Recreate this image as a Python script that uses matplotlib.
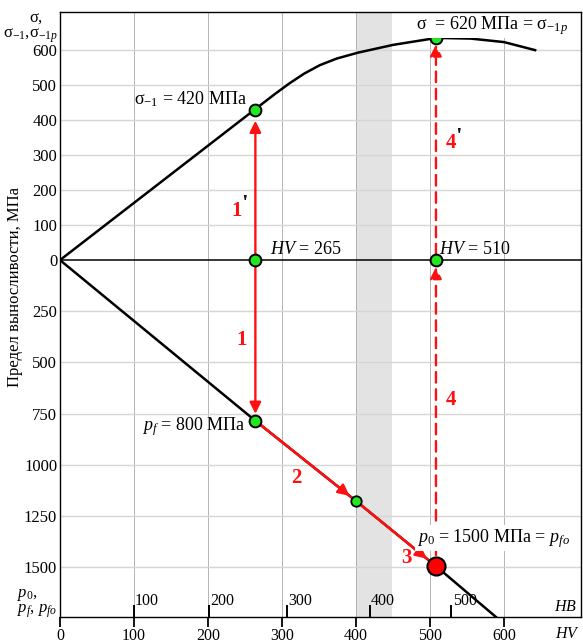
import matplotlib
matplotlib.use('Agg')
import matplotlib.pyplot as plt

plt.rcParams['font.family'] = ['Liberation Serif', 'DejaVu Serif']
plt.rcParams['mathtext.fontset'] = 'custom'
plt.rcParams['mathtext.rm'] = 'Liberation Serif'
plt.rcParams['mathtext.it'] = 'Liberation Serif:italic'
plt.rcParams['mathtext.bf'] = 'Liberation Serif:bold'

# ---------------- data ----------------
hv_upper = [0, 263, 290, 310, 330, 351, 374, 403, 450, 509, 555, 600, 642]
sigma_upper = [0, 430, 474, 505, 533, 557, 576, 593, 615, 635, 633, 623, 600]

hv_lower = [0, 264, 400, 508, 600]
p_lower = [0, 785, 1177, 1495, 1777]

hv_a = 264          # HV = 265
hv_b = 508          # HV = 510
hv_mid = 400
sigma_m1 = 430      # sigma_-1 = 420 MPa
sigma_m1p = 636     # 620 MPa
p_f = 785           # 800 MPa
p_mid = 1177
p_0 = 1495          # 1500 MPa

sigma_ticks = [0, 100, 200, 300, 400, 500, 600]
p_ticks = [250, 500, 750, 1000, 1250, 1500]
hv_ticks = [0, 100, 200, 300, 400, 500, 600]
hb_tick_pos = [100, 201, 307, 419, 529]
hb_tick_labels = ['100', '200', '300', '400', '500']
band = (400, 448)

K = 0.585  # scale of p relative to sigma in the lower half


def py(p):
    return -K * p


fig = plt.figure(figsize=(5.83, 6.44), dpi=100)
ax = fig.add_axes([60 / 583, 27 / 644, 521 / 583, 605 / 644])
ax.set_xlim(0, 704)
ax.set_ylim(-1020, 709)

# band and grid
ax.axvspan(band[0], band[1], color='#e3e3e3', lw=0, zorder=0.5)
for h in hv_ticks[1:]:
    ax.axvline(h, color='#a8a8a8', lw=0.6, zorder=1)
for s in sigma_ticks[1:]:
    ax.axhline(s, color='#d6d6d6', lw=1.0, zorder=1)
for p in p_ticks:
    ax.axhline(py(p), color='#d6d6d6', lw=1.0, zorder=1)
ax.axhline(0, color='black', lw=1.1, zorder=2)

# curves
ax.plot(hv_upper, sigma_upper, color='black', lw=1.8, zorder=3,
        solid_joinstyle='round')
ax.plot(hv_lower, [py(p) for p in p_lower], color='black', lw=1.8, zorder=3)
red = '#ff1010'
ax.plot(hv_lower[1:4], [py(p) for p in p_lower[1:4]], color=red, lw=1.6,
        zorder=3.5)


def arrow(x0, y0, x1, y1, sa=0, sb=0, dashed=False):
    props = dict(arrowstyle='-|>', color=red, lw=1.7, mutation_scale=17,
                 shrinkA=sa, shrinkB=sb)
    if dashed:
        props['linestyle'] = (0, (4.5, 2.8))
    ax.annotate('', xy=(x1, y1), xytext=(x0, y0), arrowprops=props, zorder=4)


arrow(hv_a, 0, hv_a, sigma_m1, 0, 8)
arrow(hv_a, 0, hv_a, py(p_f), 0, 5)
arrow(hv_a, py(p_f), hv_mid, py(p_mid), 4, 6)
arrow(hv_mid, py(p_mid), hv_b, py(p_0), 4, 8.5)
arrow(hv_b, py(p_0), hv_b, 0, 8, 5, dashed=True)
arrow(hv_b, 0, hv_b, sigma_m1p, 4, 5, dashed=True)

# markers
green = '#22e622'
for (x, y) in [(hv_a, sigma_m1), (hv_a, 0), (hv_b, 0), (hv_b, sigma_m1p),
               (hv_a, py(p_f))]:
    ax.plot(x, y, 'o', ms=8.5, mfc=green, mec='black', mew=1.4, zorder=6)
ax.plot(hv_mid, py(p_mid), 'o', ms=7.5, mfc=green, mec='black', mew=1.3, zorder=6)
ax.plot(hv_b, py(p_0), 'o', ms=13, mfc='#ff0000', mec='black', mew=1.5, zorder=6)

# annotations
fs = 13
ax.text(253, 446, 'σ$_{-1}$ = 420 МПа', ha='right', va='baseline', fontsize=fs, zorder=7)
ax.text(584, 660, 'σ  = 620 МПа = σ$_{-1p}$', ha='center', va='baseline', fontsize=fs,
        zorder=7, bbox=dict(facecolor='white', edgecolor='none', pad=1))
ax.text(284, 18, '$HV$ = 265', ha='left', va='baseline', fontsize=fs, zorder=7)
ax.text(512, 18, '$HV$ = 510', ha='left', va='baseline', fontsize=fs, zorder=7)
ax.text(250, -486, '$p_f$ = 800 МПа', ha='right', va='baseline', fontsize=fs, zorder=7)
ax.text(482, -806, '$p_0$ = 1500 МПа = $p_{fo}$', ha='left', va='baseline', fontsize=fs,
        zorder=7, bbox=dict(facecolor='white', edgecolor='none', pad=1))

nfs = 15
for (x, y, t) in [(239, 126, '1'), (246, -243, '1'), (319, -637, '2'),
                  (468, -866, '3'), (528, 320, '4'), (528, -414, '4')]:
    ax.text(x, y, t, color=red, fontsize=nfs, fontweight='bold', ha='center',
            va='baseline', zorder=7)
# primes of 1' and 4'
for (x, y) in [(249, 190), (538, 380)]:
    ax.text(x, y, "'", color='#111111', fontsize=17, fontweight='bold',
            ha='center', va='top', zorder=7)

# y ticks
yt = sigma_ticks + [py(p) for p in p_ticks]
yl = [str(s) for s in sigma_ticks] + [str(p) for p in p_ticks]
ax.set_yticks(yt)
ax.set_yticklabels(yl, fontsize=12)
ax.tick_params(axis='y', length=0, pad=2)

# HV ticks
ax.set_xticks(hv_ticks)
ax.set_xticklabels([str(h) for h in hv_ticks], fontsize=11.5)
ax.tick_params(axis='x', direction='out', length=7, width=1.3, pad=1)

# HB ticks (inside, upward)
ax.vlines(hb_tick_pos, -1020, -986, color='black', lw=1.4, zorder=5)
for x, t in zip(hb_tick_pos, hb_tick_labels):
    ax.text(x + 1.5, -985, t, ha='left', va='baseline', fontsize=11.5, zorder=7)
ax.text(699, -1003, '$HB$', ha='right', va='baseline', fontsize=11.5, zorder=7)
ax.text(703, -1080, '$HV$', ha='right', va='baseline', fontsize=11.5, clip_on=False)

for sp in ax.spines.values():
    sp.set_linewidth(1.0)
    sp.set_zorder(8)

# axis captions
fig.text(15 / 583, 1 - 287 / 644, 'Предел выносливости, МПа', rotation=90,
         ha='center', va='center', fontsize=12)
fig.text(43 / 583, 1 - 19 / 644, 'σ,', ha='right', va='center', fontsize=12)
fig.text(58 / 583, 1 - 36 / 644, 'σ$_{-1}$,σ$_{-1p}$', ha='right', va='center', fontsize=12)
fig.text(38 / 583, 1 - 595 / 644, '$p_0$,', ha='right', va='center', fontsize=12)
fig.text(57 / 583, 1 - 611 / 644, '$p_f$, $p_{fo}$', ha='right', va='center', fontsize=12)

fig.savefig('out.png', dpi=100)
